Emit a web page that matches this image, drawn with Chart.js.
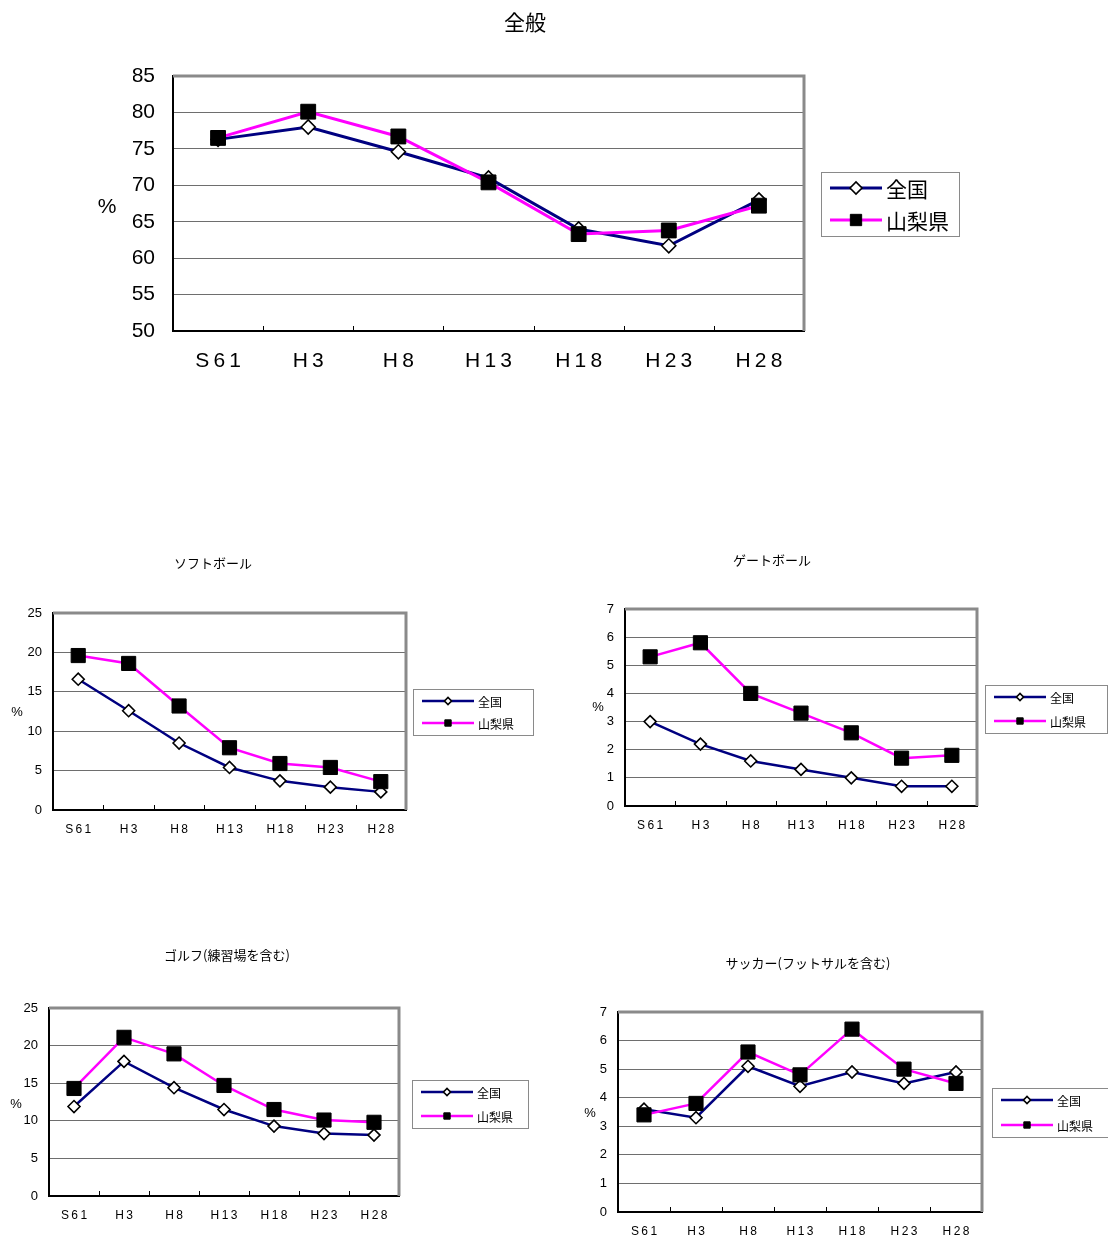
<!DOCTYPE html>
<html lang="ja">
<head>
<meta charset="utf-8">
<title>全般</title>
<script src="https://cdn.jsdelivr.net/npm/chart.js@4.4.0/dist/chart.umd.min.js"></script>
<style>
  html, body { margin: 0; background: #fff; }
  #page { position: relative; width: 1108px; height: 1238px; overflow: hidden; }
  #page canvas { position: absolute; left: 0; top: 0; }
</style>
</head>
<body>
<div id="page">
  <canvas id="c-all" width="1108" height="1238"></canvas>
  <canvas id="c-softball" width="1108" height="1238"></canvas>
  <canvas id="c-gateball" width="1108" height="1238"></canvas>
  <canvas id="c-golf" width="1108" height="1238"></canvas>
  <canvas id="c-soccer" width="1108" height="1238"></canvas>
</div>
<script>
// survey years (x axis, spaced out like the original) and the two series
const YEARS = ['S\u20096\u20091', 'H\u20093', 'H\u20098', 'H\u20091\u20093', 'H\u20091\u20098', 'H\u20092\u20093', 'H\u20092\u20098']
const SERIES_NAMES = ['全国', '山梨県']

// 全般
const ALL_NATION = [76.3, 78.0, 74.6, 71.0, 64.0, 61.7, 68.0]
const ALL_PREF = [76.5, 80.1, 76.7, 70.4, 63.3, 63.8, 67.2]

// ソフトボール
const SOFTBALL_NATION = [16.6, 12.6, 8.5, 5.4, 3.7, 2.9, 2.3]
const SOFTBALL_PREF = [19.6, 18.6, 13.2, 7.9, 5.9, 5.4, 3.6]

// ゲートボール
const GATEBALL_NATION = [3.0, 2.2, 1.6, 1.3, 1.0, 0.7, 0.7]
const GATEBALL_PREF = [5.3, 5.8, 4.0, 3.3, 2.6, 1.7, 1.8]

// ゴルフ(練習場を含む)
const GOLF_NATION = [11.9, 17.9, 14.4, 11.5, 9.3, 8.3, 8.1]
const GOLF_PREF = [14.3, 21.1, 18.9, 14.7, 11.5, 10.1, 9.8]

// サッカー(フットサルを含む)
const SOCCER_NATION = [3.6, 3.3, 5.1, 4.4, 4.9, 4.5, 4.9]
const SOCCER_PREF = [3.4, 3.8, 5.6, 4.8, 6.4, 5.0, 4.5]

const NAVY = '#000080'
const MAGENTA = '#ff00ff'
const GRID_GREY = '#6e6e6e'
const FRAME_GREY = '#8a8a8a'
const FONT_SANS = '"Liberation Sans", Arial, "Noto Sans CJK JP", sans-serif'
const FONT_JP = '"Noto Sans CJK JP", "Liberation Sans", sans-serif'
const FONT_NARROW = '"Liberation Sans Narrow", "Liberation Sans", sans-serif'

// one entry per panel: data refs + where/how it is drawn (page px)
const PANELS = [
  {
    id: 'c-all', title: '全般', nation: ALL_NATION, pref: ALL_PREF,
    yMin: 50, yMax: 85, yStep: 5,
    area: { left: 173, top: 76, right: 804, bottom: 331 },
    titlePos: [525, 22, 21], pctPos: [107, 207, 21],
    legend: { left: 821, top: 172, right: 959, bottom: 236, rows: [188, 220], font: 21, dia: 6, sq: 8 },
    tickFont: 21, tickPad: 18, xFont: 21, xPad: 18,
    line: 3, dia: 7, sq: 10.5,
  },
  {
    id: 'c-softball', title: 'ソフトボール', nation: SOFTBALL_NATION, pref: SOFTBALL_PREF,
    yMin: 0, yMax: 25, yStep: 5,
    area: { left: 53, top: 613, right: 406, bottom: 810 },
    titlePos: [213, 563, 13], pctPos: [17, 712, 13],
    legend: { left: 413, top: 689, right: 533, bottom: 735, rows: [701, 723], font: 12, dia: 3.5, sq: 4.5 },
    tickFont: 13, tickPad: 11, xFont: 12, xPad: 12,
    line: 2.5, dia: 6, sq: 10,
  },
  {
    id: 'c-gateball', title: 'ゲートボール', nation: GATEBALL_NATION, pref: GATEBALL_PREF,
    yMin: 0, yMax: 7, yStep: 1,
    area: { left: 625, top: 609, right: 977, bottom: 806 },
    titlePos: [772, 560, 13], pctPos: [598, 707, 13],
    legend: { left: 985, top: 685, right: 1107, bottom: 733, rows: [697, 721], font: 12, dia: 3.5, sq: 4.5 },
    tickFont: 13, tickPad: 11, xFont: 12, xPad: 12,
    line: 2.5, dia: 6, sq: 10,
  },
  {
    id: 'c-golf', title: 'ゴルフ(練習場を含む)', nation: GOLF_NATION, pref: GOLF_PREF,
    yMin: 0, yMax: 25, yStep: 5,
    area: { left: 49, top: 1008, right: 399, bottom: 1196 },
    titlePos: [227, 955, 13], pctPos: [16, 1104, 13],
    legend: { left: 412, top: 1080, right: 528, bottom: 1128, rows: [1092, 1116], font: 12, dia: 3.5, sq: 4.5 },
    tickFont: 13, tickPad: 11, xFont: 12, xPad: 12,
    line: 2.5, dia: 6, sq: 10,
  },
  {
    id: 'c-soccer', title: 'サッカー(フットサルを含む)', nation: SOCCER_NATION, pref: SOCCER_PREF,
    yMin: 0, yMax: 7, yStep: 1,
    area: { left: 618, top: 1012, right: 982, bottom: 1212 },
    titlePos: [808, 963, 13], pctPos: [590, 1113, 13],
    legend: { left: 992, top: 1088, right: 1108, bottom: 1137, rows: [1100, 1125], font: 12, dia: 3.5, sq: 4.5 },
    tickFont: 13, tickPad: 11, xFont: 12, xPad: 12,
    line: 2.5, dia: 6, sq: 10,
  },
]

const Y_AXIS_W = 40
const X_AXIS_H = 40

// grey top/right frame + short inner tick marks between categories
const framePlugin = {
  id: 'frame',
  beforeDatasetsDraw(chart) {
    const { ctx, chartArea: a } = chart
    const xs = chart.scales.x
    ctx.save()
    ctx.strokeStyle = FRAME_GREY
    ctx.lineWidth = 3
    ctx.beginPath()
    ctx.moveTo(a.left, a.top)
    ctx.lineTo(a.right, a.top)
    ctx.lineTo(a.right, a.bottom)
    ctx.stroke()
    ctx.strokeStyle = '#000'
    ctx.lineWidth = 1
    ctx.beginPath()
    for (let i = 1; i < xs.ticks.length; i++) {
      const px = Math.round((xs.getPixelForValue(i - 1) + xs.getPixelForValue(i)) / 2) + 0.5
      ctx.moveTo(px, a.bottom)
      ctx.lineTo(px, a.bottom - 5)
    }
    ctx.stroke()
    ctx.restore()
  },
}

// panel title, "%" label and the boxed legend on the right
const annotatePlugin = {
  id: 'annotate',
  afterDraw(chart, args, opts) {
    const p = opts.panel
    const { ctx } = chart
    ctx.save()
    ctx.fillStyle = '#000'
    ctx.textAlign = 'center'
    ctx.textBaseline = 'middle'
    ctx.font = `${p.titlePos[2]}px ${FONT_JP}`
    ctx.fillText(p.title, p.titlePos[0], p.titlePos[1])
    ctx.font = `${p.pctPos[2]}px ${FONT_SANS}`
    ctx.fillText('%', p.pctPos[0], p.pctPos[1])

    const lg = p.legend
    ctx.strokeStyle = FRAME_GREY
    ctx.lineWidth = 1
    ctx.strokeRect(lg.left + 0.5, lg.top + 0.5, lg.right - lg.left, lg.bottom - lg.top)
    ctx.textAlign = 'left'
    ctx.font = `${lg.font}px ${FONT_JP}`
    const segW = 52
    chart.data.datasets
      .slice()
      .sort((a, b) => a.legendIndex - b.legendIndex)
      .forEach((ds, i) => {
        const y = lg.rows[i]
        const x0 = lg.left + 9
        ctx.strokeStyle = ds.borderColor
        ctx.lineWidth = ds.borderWidth
        ctx.beginPath()
        ctx.moveTo(x0, y)
        ctx.lineTo(x0 + segW, y)
        ctx.stroke()
        ctx.fillStyle = ds.pointBackgroundColor
        ctx.strokeStyle = ds.pointBorderColor
        ctx.lineWidth = ds.pointBorderWidth
        Chart.helpers.drawPoint(ctx, {
          pointStyle: ds.pointStyle,
          radius: ds.pointStyle === 'rect' ? lg.sq : lg.dia,
          rotation: 0,
          borderWidth: ds.pointBorderWidth,
        }, x0 + segW / 2, y)
        ctx.fillStyle = '#000'
        ctx.fillText(ds.label, x0 + segW + 4, y + 1)
      })
    ctx.restore()
  },
}

const makeChart = p => {
  const canvas = document.getElementById(p.id)
  const W = canvas.width
  const H = canvas.height
  const a = p.area

  const datasets = [
    {
      label: SERIES_NAMES[0],
      data: p.nation,
      legendIndex: 0,
      order: 1,
      borderColor: NAVY,
      borderWidth: p.line,
      pointStyle: 'rectRot',
      pointRadius: p.dia,
      pointBackgroundColor: '#fff',
      pointBorderColor: '#000',
      pointBorderWidth: 1.6,
    },
    {
      label: SERIES_NAMES[1],
      data: p.pref,
      legendIndex: 1,
      order: 0,
      borderColor: MAGENTA,
      borderWidth: p.line,
      pointStyle: 'rect',
      pointRadius: p.sq,
      pointBackgroundColor: '#000',
      pointBorderColor: '#000',
      pointBorderWidth: 1,
    },
  ]

  return new Chart(canvas, {
    type: 'line',
    data: { labels: YEARS, datasets },
    options: {
      responsive: false,
      animation: false,
      events: [],
      layout: {
        padding: {
          left: a.left - Y_AXIS_W,
          top: a.top,
          right: W - a.right,
          bottom: H - a.bottom - X_AXIS_H,
        },
      },
      elements: { line: { tension: 0 } },
      plugins: {
        legend: { display: false },
        tooltip: { enabled: false },
        title: { display: false },
        annotate: { panel: p },
      },
      scales: {
        x: {
          offset: true,
          grid: { display: false, drawTicks: false },
          border: { display: true, color: '#000', width: 2 },
          ticks: {
            color: '#000',
            padding: p.xPad,
            maxRotation: 0,
            autoSkip: false,
            font: { family: FONT_NARROW, size: p.xFont },
          },
          afterFit: s => { s.height = X_AXIS_H },
        },
        y: {
          min: p.yMin,
          max: p.yMax,
          grid: { color: GRID_GREY, lineWidth: 1, drawTicks: false },
          border: { display: true, color: '#000', width: 2 },
          ticks: {
            stepSize: p.yStep,
            color: '#000',
            padding: p.tickPad,
            font: { family: FONT_SANS, size: p.tickFont },
          },
          afterFit: s => { s.width = Y_AXIS_W },
        },
      },
    },
    plugins: [framePlugin, annotatePlugin],
  })
}

window.addEventListener('load', () => PANELS.forEach(makeChart))
</script>
</body>
</html>
